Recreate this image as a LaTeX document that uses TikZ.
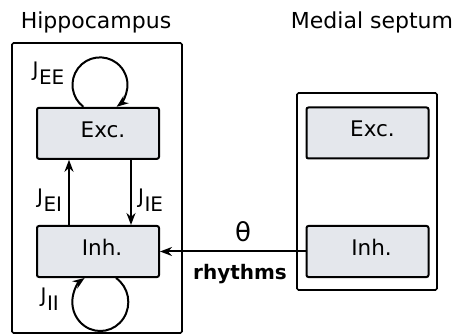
\documentclass[tikz,border=0pt]{standalone}
\usepackage{fontspec}
\setmainfont{DejaVu Sans}
\usetikzlibrary{arrows.meta}
\definecolor{boxfill}{RGB}{228,231,236}
\tikzset{
 region/.style={draw, line width=1.6pt, rounded corners=1.5pt, inner sep=0pt},
 popbox/.style={draw, line width=2pt, fill=boxfill, rounded corners=2pt, minimum width=122pt, minimum height=51pt, inner sep=0pt, font=\fontsize{21.5}{24}\selectfont, text depth=8pt},
 conn/.style={line width=2pt, -{Stealth[length=12pt,width=9pt]}},
 jlabel/.style={anchor=base west, inner sep=0pt, font=\fontsize{20}{22}\selectfont},
 title/.style={anchor=base, inner sep=0pt, font=\fontsize{22}{26}\selectfont},
}
\newcommand{\jsub}[1]{J\kern0.5pt\raisebox{-8pt}{#1}}
\begin{document}
\begin{tikzpicture}[x=1pt,y=1pt]
\useasboundingbox (0,0) rectangle (458,335);
\node[region, minimum width=170pt, minimum height=290pt] (hipp) at (97,147) {};
\node[region, minimum width=140pt, minimum height=197pt] (ms) at (367,143.5) {};
\node[popbox] (he) at (98,201.7) {\hspace*{10pt}Exc.};
\node[popbox] (hi) at (98,83.5) {\hspace*{8pt}Inh.};
\node[popbox] (me) at (367.5,202) {\hspace*{10pt}Exc.};
\node[popbox] (mi) at (367.5,83.5) {\hspace*{8pt}Inh.};
\node[title] (ht) at (96,306.7) {Hippocampus};
\node[title] (mt) at (372,306.7) {Medial septum};
\draw[conn] ([xshift=-29pt]hi.north) -- ([xshift=-29pt]he.south);
\draw[conn] ([xshift=33pt]he.south) -- ([xshift=33pt]hi.north);
\draw[conn] ([xshift=-14.6pt]he.north) arc[start angle=232.9, end angle=-52.9, radius=27.5pt];
\draw[conn] ([xshift=18pt]hi.south) arc[start angle=55.9, end angle=-235.9, x radius=28pt, y radius=29pt];
\draw[conn] (mi.west) -- (hi.east);
\node[font=\fontsize{26}{30}\selectfont, inner sep=0pt] (theta) at (243,103) {θ};
\node[font=\bfseries\fontsize{20}{24}\selectfont, anchor=base, inner sep=0pt] (rh) at (240,56) {rhythms};
\node[jlabel] (jee) at (32.5,258) {\jsub{EE}};
\node[jlabel] (jei) at (37,131.3) {\jsub{EI}};
\node[jlabel] (jie) at (138,131.3) {\jsub{IE}};
\node[jlabel] (jii) at (40.5,33) {\jsub{II}};
\end{tikzpicture}
\end{document}
